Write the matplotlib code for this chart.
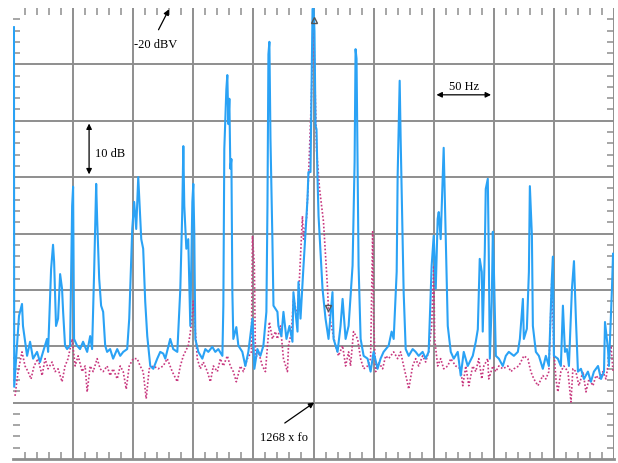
import numpy as np
import matplotlib
matplotlib.use("Agg")
import matplotlib.pyplot as plt
from matplotlib.ticker import MultipleLocator

# ---------------------------------------------------------------------------
# Spectrum around 1268 x fo : offset frequency (Hz) vs level (dBV)
# ---------------------------------------------------------------------------
BLUE_HZ = [-249.2, -249.1, -249.0, -246.7, -245, -242.5, -241.7, -238.3, -235.8, -233.3,
           -230, -227.5, -225, -221.7, -220.8, -218.3, -216.7, -215.8, -214.2, -212.5,
           -210.8, -209.2, -208.3, -206.7, -205, -202.5, -200.8, -200, -199.2, -196.7,
           -194.2, -191.7, -188.3, -185.8, -184.2, -182.5, -180.8, -180, -178.3, -176.7,
           -175, -173.3, -171.7, -169.2, -166.7, -163.3, -160.8, -158.3, -155, -153.3,
           -150.8, -149.2, -147.5, -145.8, -143.3, -141.7, -140, -138.3, -135.8, -133.3,
           -130, -127.5, -125, -123.3, -119.2, -116.7, -113.3, -110.8, -109.2, -108.3,
           -107.5, -105.8, -104.2, -102.5, -100.8, -100, -99.2, -98.3, -95.8, -92.5,
           -90, -87.5, -84.2, -81.7, -79.2, -75.8, -75, -74.2, -72.5, -71.7,
           -70.8, -70, -69.2, -68.3, -67.5, -66.7, -64.2, -62.5, -59.2, -56.7,
           -54.2, -50.8, -49.2, -46.7, -44.2, -41.7, -39.2, -38.3, -37.5, -36.7,
           -35.8, -34.2, -33.3, -30, -29.2, -26.7, -25, -22.5, -20, -17.5,
           -16.7, -13.3, -12.5, -10.8, -8.3, -5, -4.2, -2.5, -1.7, -0.8,
           0, 0.8, 1.7, 2.5, 3.3, 4.2, 7.5, 10, 12.5, 15.8,
           16.7, 20, 22.5, 24.2, 26.7, 29.2, 32.5, 34.2, 35, 35.8,
           37.5, 39.2, 41.7, 45, 47.5, 50, 53.3, 55.8, 58.3, 62.5,
           65, 66.7, 69.2, 70, 71.7, 72.5, 75, 76.7, 79.2, 82.5,
           85, 87.5, 90.8, 93.3, 95.8, 98.3, 100, 101.7, 103.3, 104.2,
           105.8, 108.3, 110, 111.7, 114.2, 116.7, 120, 122.5, 125, 128.3,
           132.5, 135, 136.7, 138.3, 140, 140.8, 142.5, 143.3, 145, 145.8,
           146.7, 148.3, 149.2, 150, 151.7, 154.2, 157.5, 160, 162.5, 166.7,
           170, 171.7, 174.2, 175, 177.5, 179.2, 180, 181.7, 182.5, 185,
           187.5, 190.8, 193.3, 195.8, 198.3, 199.2, 200, 203.3, 205.8, 207.5,
           209.2, 210.8, 212.5, 215, 216.7, 218.3, 220, 222.5, 225, 228.3,
           230.8, 233.3, 236.7, 239.2, 241.7, 242.5, 245, 245.8, 248.3, 249.2]
BLUE_DBV = [-23.4, -55.1, -87.2, -79.9, -74.6, -72.5, -76.4, -81.7, -79.2, -82.2,
            -81.0, -82.8, -81.0, -78.7, -81.0, -66.3, -62.0, -65.0, -76.4, -75.1,
            -67.2, -69.8, -73.9, -79.9, -80.5, -79.9, -55.1, -51.7, -78.7, -79.9,
            -80.5, -79.2, -81.0, -78.2, -80.5, -66.8, -51.2, -57.4, -68.0, -72.8,
            -73.9, -79.9, -81.0, -80.5, -82.2, -80.5, -81.7, -81.0, -80.5, -75.1,
            -59.2, -54.4, -59.2, -50.0, -61.0, -62.7, -72.1, -78.2, -83.5, -84.0,
            -82.2, -81.0, -81.3, -82.2, -78.7, -80.5, -81.0, -69.8, -56.2, -44.5,
            -55.1, -62.7, -61.0, -76.4, -54.4, -51.2, -59.7, -78.7, -81.0, -82.2,
            -80.5, -81.0, -80.1, -81.0, -80.5, -81.7, -72.8, -45.0, -34.4, -31.9,
            -40.6, -36.1, -48.5, -46.8, -70.4, -78.7, -76.6, -79.9, -81.0, -83.5,
            -81.0, -75.1, -84.0, -80.5, -81.7, -79.9, -73.9, -55.1, -28.2, -26.0,
            -43.2, -61.0, -72.8, -73.9, -76.4, -78.2, -73.9, -78.7, -76.4, -79.2,
            -70.4, -77.4, -68.6, -75.1, -65.7, -53.9, -49.1, -49.1, -35.6, -20.2,
            -19.8, -24.1, -40.9, -41.5, -49.8, -56.9, -69.8, -75.1, -78.7, -70.4,
            -78.7, -81.0, -76.4, -71.6, -78.7, -76.4, -65.7, -47.3, -27.3, -29.0,
            -65.7, -78.7, -81.7, -82.2, -84.5, -81.0, -84.0, -82.2, -81.0, -79.9,
            -77.4, -78.7, -66.8, -49.8, -32.9, -43.2, -70.4, -80.5, -81.7, -80.5,
            -81.0, -81.7, -81.0, -82.2, -81.0, -65.7, -60.4, -69.8, -57.4, -56.2,
            -61.0, -44.8, -61.0, -76.4, -81.0, -82.2, -81.0, -85.2, -81.0, -83.5,
            -81.7, -79.2, -77.0, -64.5, -66.8, -77.4, -63.3, -52.1, -50.3, -63.3,
            -82.2, -72.1, -59.7, -65.7, -81.7, -82.2, -83.5, -81.7, -81.0, -81.7,
            -81.0, -78.7, -71.6, -78.7, -76.9, -66.8, -51.6, -60.4, -76.4, -81.0,
            -81.7, -84.0, -81.7, -83.5, -68.0, -64.1, -81.7, -82.2, -83.5, -72.8,
            -81.0, -80.5, -83.5, -69.8, -64.9, -75.1, -84.5, -84.0, -85.8, -84.5,
            -86.3, -84.5, -83.5, -85.8, -84.5, -75.7, -80.5, -83.5, -69.8, -63.6]

PINK_HZ = [-248.3, -245.8, -242.5, -240, -237.5, -235, -232.5, -229.2, -225.8, -223.3,
           -220.8, -217.5, -215, -212.5, -209.2, -206.7, -204.2, -200.8, -198.3, -195.8,
           -192.5, -190, -188.3, -185.8, -183.3, -180, -177.5, -175, -171.7, -169.2,
           -166.7, -163.3, -160.8, -158.3, -155.8, -153.3, -150, -146.7, -144.2, -141.7,
           -139.2, -136.7, -133.3, -129.2, -125, -121.7, -117.5, -113.3, -110.8, -108.3,
           -104.2, -101.7, -100, -96.7, -94.2, -91.7, -88.3, -85.8, -83.3, -80,
           -77.5, -75, -71.7, -69.2, -66.7, -64.2, -60.8, -58.3, -55, -51.7,
           -50.8, -49.2, -48.3, -45.8, -42.5, -40, -38.3, -36.7, -34.2, -31.7,
           -30, -27.5, -25, -21.7, -20.8, -18.3, -16.7, -13.3, -11.7, -9.2,
           -8.3, -5.8, -4.2, -1.7, 0, 2.5, 5, 8.3, 10, 11.7,
           12.5, 15.8, 18.3, 20.8, 24.2, 26.7, 29.2, 30.8, 33.3, 36.7,
           39.2, 41.7, 45, 47.5, 49.2, 50, 51.7, 54.2, 57.5, 60,
           62.5, 66.7, 70, 72.5, 75, 77.5, 79.2, 82.5, 85, 87.5,
           90.8, 93.3, 95.8, 98.3, 100, 100.8, 103.3, 105.8, 108.3, 111.7,
           114.2, 118.3, 122.5, 124.2, 126.7, 129.2, 132.5, 135, 137.5, 140,
           141.7, 145, 145.8, 149.2, 151.7, 154.2, 157.5, 161.7, 164.2, 166.7,
           170.8, 175, 178.3, 180.8, 183.3, 186.7, 190.8, 193.3, 195.8, 198.3,
           200, 201.7, 203.3, 205.8, 208.3, 211.7, 214.2, 215.8, 218.3, 220.8,
           224.2, 226.7, 229.2, 232.5, 235, 237.5, 240.8, 243.3, 245.8, 247.5,
           249.2]
PINK_DBV = [-88.8, -84.5, -81.0, -83.5, -84.5, -85.8, -83.5, -82.2, -85.2, -82.2,
            -84.0, -82.8, -84.5, -84.0, -86.3, -83.5, -82.2, -78.7, -83.5, -81.7,
            -84.5, -83.5, -88.1, -83.5, -84.5, -82.2, -84.0, -84.5, -83.5, -85.2,
            -84.0, -85.8, -83.5, -84.5, -87.6, -83.5, -82.2, -82.2, -83.5, -84.5,
            -89.3, -84.0, -83.5, -84.0, -83.5, -82.2, -84.5, -86.3, -83.5, -81.7,
            -79.9, -76.4, -72.0, -82.2, -84.0, -82.8, -84.5, -86.3, -83.5, -84.5,
            -82.2, -83.5, -81.7, -83.5, -84.5, -86.3, -83.5, -84.5, -82.2, -81.0,
            -60.4, -65.7, -82.2, -81.0, -83.5, -84.5, -79.9, -75.7, -78.7, -77.4,
            -78.7, -76.4, -82.2, -84.5, -79.9, -77.4, -71.6, -74.6, -68.0, -56.9,
            -61.0, -57.4, -50.3, -35.6, -22.0, -45.0, -52.0, -57.9, -63.8, -69.8,
            -73.9, -77.4, -79.9, -81.7, -79.9, -83.5, -81.0, -83.5, -77.4, -78.7,
            -82.2, -84.0, -83.5, -82.2, -59.7, -75.7, -84.5, -82.8, -84.0, -81.7,
            -82.2, -81.0, -82.2, -81.0, -83.5, -85.8, -87.6, -83.5, -82.2, -83.5,
            -81.7, -82.8, -81.0, -76.4, -65.7, -78.7, -83.5, -82.2, -84.0, -83.5,
            -82.2, -83.5, -84.0, -87.0, -83.5, -87.0, -83.5, -84.5, -82.2, -85.8,
            -83.5, -82.2, -85.8, -83.5, -84.5, -83.5, -84.0, -83.5, -84.5, -84.0,
            -83.5, -81.7, -82.2, -84.5, -85.8, -87.0, -85.2, -85.8, -84.5, -68.0,
            -81.0, -85.8, -88.1, -84.5, -83.5, -84.5, -89.9, -84.0, -84.5, -87.0,
            -84.5, -88.1, -85.8, -87.0, -85.2, -85.8, -84.5, -85.8, -82.2, -79.9,
            -84.5]

MARKERS_HZ = [0.8, 11.7]
MARKERS_DBV = [-22.1, -73.2]

SPAN = (-250, 250)      # 50 Hz / div
LEVEL = (-100, -20)     # 10 dB / div, top = -20 dBV

GRID = "#8e8e8e"

fig = plt.figure(figsize=(6.18, 4.64), dpi=100)
ax = fig.add_axes([13 / 618, 4 / 464, 601 / 618, 451 / 464])

ax.set_xlim(*SPAN)
ax.set_ylim(*LEVEL)

# graticule (interior lines only, no top/left frame)
for xv in range(-200, 251, 50):
    ax.axvline(xv, color=GRID, lw=1.4, zorder=1)
for yv in range(-90, -20, 10):
    ax.axhline(yv, color=GRID, lw=1.4, zorder=1)
ax.axhline(-100, color=GRID, lw=2, zorder=1, clip_on=False)

for s in ax.spines.values():
    s.set_visible(False)

ax.xaxis.set_major_locator(MultipleLocator(50))
ax.xaxis.set_minor_locator(MultipleLocator(10))
ax.yaxis.set_major_locator(MultipleLocator(10))
ax.yaxis.set_minor_locator(MultipleLocator(2))
ax.tick_params(which="major", length=0, labelbottom=False, labelleft=False)
ax.tick_params(which="minor", direction="in", length=5, width=1.1, color=GRID,
               top=True, bottom=True, left=True, right=True)

ax.plot(PINK_HZ, PINK_DBV, color="#c8387f", lw=1.2, ls=(0, (1, 1.2)), zorder=2)
ax.plot(BLUE_HZ, BLUE_DBV, color="#2aa2f5", lw=1.5, zorder=3)

ax.plot(MARKERS_HZ[0], MARKERS_DBV[0], marker="^", ms=5, mfc="none", mec="#555555",
        mew=1, zorder=4)
ax.plot(MARKERS_HZ[1], MARKERS_DBV[1], marker="v", ms=5, mfc="none", mec="#555555",
        mew=1, zorder=4)

txt = dict(fontsize=9, family="Liberation Serif", color="black")
arr = dict(arrowstyle="-|>", color="black", lw=0.9, mutation_scale=8)
darr = dict(arrowstyle="<|-|>", color="black", lw=0.9, mutation_scale=8)

ax.annotate("", xy=(-119.2, -19.8), xytext=(-130, -24.3), arrowprops=arr,
            annotation_clip=False)
ax.text(-131.7, -26.4, "-20 dBV", ha="center", va="center", **txt)

ax.annotate("", xy=(-186.7, -40), xytext=(-186.7, -50), arrowprops=darr)
ax.text(-181.7, -45.7, "10 dB", ha="left", va="center", **txt)

ax.annotate("", xy=(100, -35.4), xytext=(150, -35.4), arrowprops=darr)
ax.text(125, -33.8, "50 Hz", ha="center", va="center", **txt)

ax.annotate("", xy=(2.5, -89.7), xytext=(-25.8, -93.9), arrowprops=arr)
ax.text(-24.2, -96.1, "1268 x fo", ha="center", va="center", **txt)

fig.savefig("out.png", dpi=100)
